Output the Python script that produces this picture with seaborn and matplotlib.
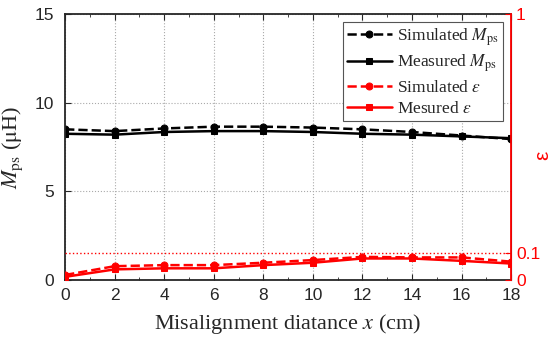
import matplotlib
matplotlib.use("Agg")
import matplotlib.pyplot as plt
import seaborn as sns
import pandas as pd

x_cm = [0, 2, 4, 6, 8, 10, 12, 14, 16, 18]
sim_mps = [8.5, 8.4, 8.55, 8.65, 8.65, 8.6, 8.5, 8.35, 8.15, 7.95]
meas_mps = [8.25, 8.2, 8.35, 8.4, 8.4, 8.35, 8.25, 8.2, 8.1, 8.0]
sim_eps = [0.019, 0.052, 0.056, 0.056, 0.065, 0.075, 0.087, 0.085, 0.085, 0.069]
meas_eps = [0.012, 0.040, 0.044, 0.044, 0.056, 0.065, 0.081, 0.081, 0.072, 0.062]

sns.set_style("ticks")
plt.rcParams["font.family"] = ["Liberation Sans", "DejaVu Sans"]
plt.rcParams["mathtext.fontset"] = "stix"

df = pd.DataFrame({"x": x_cm, "sim_mps": sim_mps, "meas_mps": meas_mps,
                   "sim_eps": sim_eps, "meas_eps": meas_eps})

fig = plt.figure(figsize=(5.52, 3.44), dpi=100)
ax = fig.add_axes([0.118, 0.186, 0.808, 0.773])
ax2 = ax.twinx()

lw = 1.8
ms = 5
sns.lineplot(data=df, x="x", y="sim_mps", ax=ax, color="black", linestyle="--",
             marker="o", markersize=ms, linewidth=lw, markeredgecolor="black",
             label=r"Simulated $M_{\rm ps}$", legend=False)
sns.lineplot(data=df, x="x", y="meas_mps", ax=ax, color="black", linestyle="-",
             marker="s", markersize=ms, linewidth=lw, markeredgecolor="black",
             label=r"Measured $M_{\rm ps}$", legend=False)
sns.lineplot(data=df, x="x", y="sim_eps", ax=ax2, color="red", linestyle="--",
             marker="o", markersize=ms, linewidth=lw, markeredgecolor="red",
             label=r"Simulated $\varepsilon$", legend=False)
sns.lineplot(data=df, x="x", y="meas_eps", ax=ax2, color="red", linestyle="-",
             marker="s", markersize=ms, linewidth=lw, markeredgecolor="red",
             label=r"Mesured $\varepsilon$", legend=False)

ax2.axhline(0.1, color="red", linestyle=":", linewidth=1.0)

ax.set_xlim(0, 18)
ax.set_ylim(0, 15)
ax2.set_ylim(0, 1)
ax.set_xticks(x_cm)
ax.set_xticks([1, 3, 5, 7, 9, 11, 13, 15, 17], minor=True)
ax.set_yticks([0, 5, 10, 15])
ax2.set_yticks([0, 0.1, 1])
ax2.set_yticklabels(["0", "0.1", "1"])

ax.grid(True, which="major", color="#aaaaaa", linestyle=":", linewidth=0.8)
ax.tick_params(axis="both", which="both", direction="in", top=True, labelsize=12.5)
ax.tick_params(axis="x", which="major", pad=6)
ax.tick_params(axis="y", which="major", pad=8)
ax.tick_params(which="major", length=4)
ax.tick_params(which="minor", length=2.5)
ax2.tick_params(axis="y", direction="in", colors="red", labelsize=12.5, length=4)

for s in ["left", "bottom", "top"]:
    ax.spines[s].set_linewidth(1.3)
ax2.spines["right"].set_color("red")
ax2.spines["right"].set_linewidth(1.3)
for s in ["left", "bottom", "top"]:
    ax2.spines[s].set_visible(False)

ax.set_xlabel(r"Misalignment diatance $x$ (cm)", fontsize=16, family="Liberation Serif", labelpad=6)
ax.set_ylabel(r"$M_{\rm ps}$ ($\mathrm{\mu}$H)", fontsize=16, family="Liberation Serif")
ax.yaxis.set_label_coords(-0.117, 0.5)
ax.yaxis.label.set_verticalalignment("center")
ax2.set_ylabel("ε", fontsize=15, color="red", rotation=90)
ax2.yaxis.set_label_coords(1.07, 0.47)
ax2.yaxis.label.set_verticalalignment("center")

h1, l1 = ax.get_legend_handles_labels()
h2, l2 = ax2.get_legend_handles_labels()
leg = ax2.legend(h1 + h2, l1 + l2, loc="upper right", bbox_to_anchor=(0.99, 0.985),
                 prop={"family": "Liberation Serif", "size": 12.5}, frameon=True,
                 fancybox=False, edgecolor="#555555", framealpha=1,
                 handlelength=2.6, handletextpad=0.3, borderpad=0.25, labelspacing=0.3,
                 borderaxespad=0.2)
leg.get_frame().set_linewidth(0.8)

fig.savefig("out.png", dpi=100)
